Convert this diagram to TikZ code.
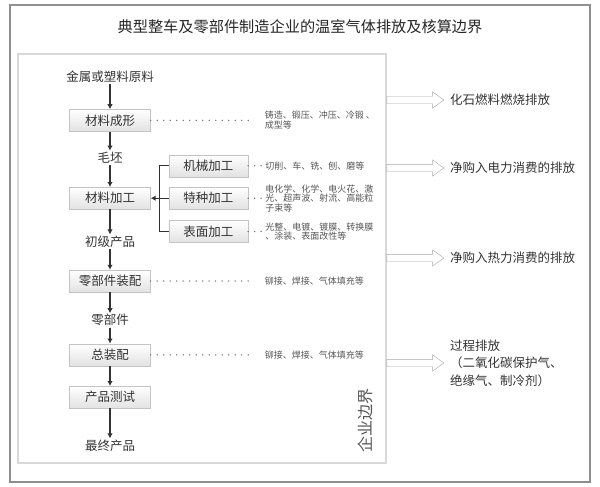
\documentclass[tikz,border=0pt]{standalone}
\usepackage{fontspec}
\setmainfont{Noto Sans CJK SC}
\usepackage{xcolor}
\usetikzlibrary{arrows.meta,positioning,shapes.arrows}
\definecolor{InkGray}{HTML}{333333}
\definecolor{NoteGray}{HTML}{555555}
\definecolor{DotGray}{HTML}{6E6E6E}
\definecolor{FrameGray}{HTML}{8F8F8F}
\definecolor{BoundGray}{HTML}{D9D9D9}
\definecolor{BoxLine}{HTML}{C4C4C4}
\definecolor{BoxFill}{HTML}{E2E2E2}
\definecolor{ArrowLine}{HTML}{A8A8A8}

\begin{document}
\begin{tikzpicture}[
  x=1pt, y=-1pt,
  every node/.style={font=\fontsize{12.5}{15}\selectfont, text=InkGray, align=center},
  frame/.style={rectangle, draw=FrameGray, line width=1.3pt, inner sep=0pt},
  boundary/.style={rectangle, draw=BoundGray, line width=1.3pt, inner sep=0pt},
  stage/.style={rectangle, minimum width=81pt, minimum height=22pt, inner sep=1pt, draw=BoxLine, top color=white, bottom color=BoxFill},
  substage/.style={stage, minimum width=79pt},
  item/.style={inner sep=1pt, text height=10.5pt, text depth=1.5pt},
  note/.style={align=left, inner sep=1pt, text=NoteGray, font=\fontsize{9}{9.6}\selectfont},
  target/.style={anchor=west, align=left, inner sep=0pt, font=\fontsize{12.5}{17.5}\selectfont},
  hollow/.style={single arrow, draw=ArrowLine, fill=white, anchor=tail, minimum height=57pt, minimum width=16pt, inner sep=3.5pt, single arrow head extend=4.5pt, single arrow tip angle=72},
  flow/.style={draw=InkGray, line width=1.3pt, -{Latex[length=5pt,width=5.5pt]}},
  link/.style={draw=InkGray, line width=1.3pt},
  dots/.style={draw=DotGray, line width=1.5pt, line cap=round, dash pattern=on 0pt off 6.5pt, shorten >=9pt}
]
  \useasboundingbox (0,0) rectangle (600,487);
  \node[frame, minimum width=580pt, minimum height=477pt] (frame) at (300,243.5) {};
  \node[boundary, minimum width=368pt, minimum height=409pt] (bound) at (202,258.5) {};
  \node[font=\fontsize{15.2}{17}\selectfont, text=black!85] (title) at (300,27) {典型整车及零部件制造企业的温室气体排放及核算边界};

  \node[item] (raw) at (110,77) {金属或塑料原料};
  \node[stage, below=25pt of raw] (forming) {材料成形};
  \node[item, below=19pt of forming] (blank) {毛坯};
  \node[stage, below=22pt of blank] (machining) {材料加工};
  \node[item, below=25pt of machining] (primary) {初级产品};
  \node[stage, below=21pt of primary] (partsasm) {零部件装配};
  \node[item, below=21pt of partsasm] (parts) {零部件};
  \node[stage, below=16pt of parts] (finalasm) {总装配};
  \node[stage, below=20pt of finalasm] (testing) {产品测试};
  \node[item, below=30pt of testing] (product) {最终产品};

  \node[substage, right=18pt of machining] (special) {特种加工};
  \node[substage, above=10pt of special] (mech) {机械加工};
  \node[substage, below=11pt of special] (surface) {表面加工};

  \node[note, right=113pt of forming] (formingnote) {铸造、锻压、冲压、冷锻 、\\成型等};
  \node[note, right=16pt of mech] (mechnote) {切削、车、铣、刨、磨等};
  \node[note, right=16pt of special] (specialnote) {电化学、化学、电火花、激\\光、超声波、射流、高能粒\\子束等};
  \node[note, right=16pt of surface] (surfacenote) {光整、电镀、镀膜、转换膜\\、涂装、表面改性等};
  \node[note, right=113pt of partsasm] (partsnote) {铆接、焊接、气体填充等};
  \node[note, right=113pt of finalasm] (finalnote) {铆接、焊接、气体填充等};

  \node[rotate=90, text=NoteGray, font=\fontsize{16}{16}\selectfont] (boundlabel) at (365,420) {企业边界};

  \node[target] (fossil) at (450,100) {化石燃料燃烧排放};
  \node[target] (power) at (450,168) {净购入电力消费的排放};
  \node[target] (heat) at (450,258) {净购入热力消费的排放};
  \node[target] (process) at (450,363) {过程排放\\（二氧化碳保护气、\\绝缘气、制冷剂）};
  \node[hollow] (fossilarrow) at (bound.east |- fossil.west) {};
  \node[hollow] (powerarrow) at (bound.east |- power.west) {};
  \node[hollow] (heatarrow) at (bound.east |- heat.west) {};
  \node[hollow] (processarrow) at (bound.east |- process.west) {};

  \draw[flow] (raw) -- (forming);
  \draw[flow] (forming) -- (blank);
  \draw[flow] (blank) -- (machining);
  \draw[flow] (machining) -- (primary);
  \draw[flow] (primary) -- (partsasm);
  \draw[flow] (partsasm) -- (parts);
  \draw[flow] (parts) -- (finalasm);
  \draw[flow] (finalasm) -- (testing);
  \draw[flow] (testing) -- (product);
  \draw[link] (mech.west) -- ++(-9pt,0) |- (surface.west);
  \draw[flow] (special.west) -- (special.west -| machining.east);

  \draw[dots] (forming.east) -- (formingnote.west);
  \draw[dots, shorten >=1pt] (mech.east) -- (mechnote.west);
  \draw[dots, shorten >=1pt] (special.east) -- (specialnote.west);
  \draw[dots, shorten >=1pt] (surface.east) -- (surfacenote.west);
  \draw[dots] (partsasm.east) -- (partsnote.west);
  \draw[dots] (finalasm.east) -- (finalnote.west);
\end{tikzpicture}
\end{document}
